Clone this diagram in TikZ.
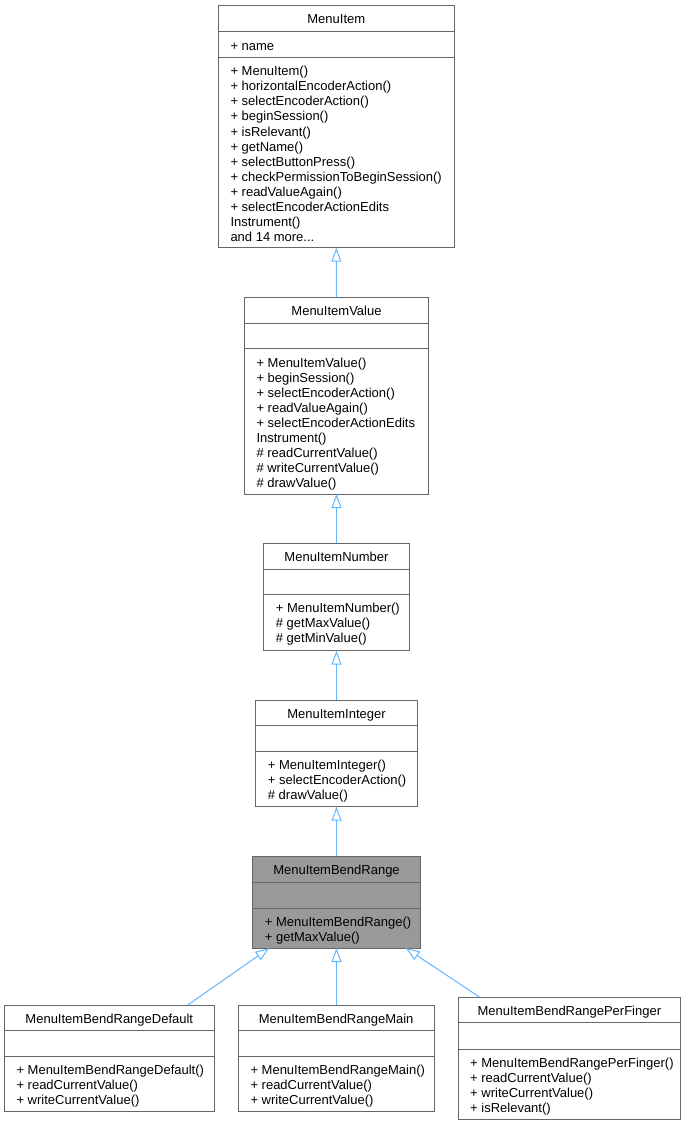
\documentclass[tikz,border=0pt]{standalone}
\usepackage{fontspec}
\setmainfont{Liberation Sans}
\usetikzlibrary{arrows.meta}
\definecolor{edgeblue}{HTML}{63B8FF}
\definecolor{boxline}{HTML}{666666}
\definecolor{hlfill}{HTML}{999999}
\newcommand\moredots{...}
\tikzset{
  classbox/.style={draw=boxline, line width=1pt, inner sep=0pt, outer sep=0pt},
  divider/.style={draw=boxline, line width=1pt},
  txt/.style={font=\fontsize{13}{15}\selectfont, inner sep=0pt, anchor=base west, text=black},
  ttl/.style={txt, anchor=base},
  inh/.style={draw=edgeblue, line width=1pt, -{Triangle[open, length=14pt, width=10pt]}}
}
\newcommand\umlbox[9]{%
  \pgfmathsetmacro\bw{#4-#2}\pgfmathsetmacro\bh{#7-#3}%
  \node[classbox, fill=#8, minimum width=\bw pt, minimum height=\bh pt, anchor=north west] (#1) at (#2,#3) {};
  \draw[divider] (#2,#5) -- (#4,#5);
  \draw[divider] (#2,#6) -- (#4,#6);
  \node[ttl] (#1-t) at ({(#2+#4)/2}, #3+18.3) {#9};
}
\newcommand\umlsec[4]{%
  \foreach \t [count=\i] in {#4} {\node[txt] (#1\i) at (#2+12, {#3+3.5+15.05*\i}) {\t};}
}
\begin{document}
\begin{tikzpicture}[x=1pt, y=-1pt]
\useasboundingbox (0,0) rectangle (687,1126);
\fill[white] (0,0) rectangle (687,1126);

% MenuItem
\umlbox{mi}{218.3}{5.3}{454.3}{31.7}{57.3}{247.7}{white}{MenuItem}
\umlsec{mi-a}{218.3}{31.7}{+ name}
\umlsec{mi-m}{218.3}{57.3}{+ MenuItem(),+ horizontalEncoderAction(),+ selectEncoderAction(),+ beginSession(),+ isRelevant(),+ getName(),+ selectButtonPress(),+ checkPermissionToBeginSession(),+ readValueAgain(),+ selectEncoderActionEdits,Instrument(),and 14 more\moredots}

% MenuItemValue
\umlbox{mv}{244.3}{297.3}{428.7}{323.3}{348.7}{494}{white}{MenuItemValue}
\umlsec{mv-m}{244.3}{348.7}{+ MenuItemValue(),+ beginSession(),+ selectEncoderAction(),+ readValueAgain(),+ selectEncoderActionEdits,Instrument(),\# readCurrentValue(),\# writeCurrentValue(),\# drawValue()}

% MenuItemNumber
\umlbox{mn}{263.7}{543.3}{409.3}{569}{594.3}{650.7}{white}{MenuItemNumber}
\umlsec{mn-m}{263.7}{594.3}{+ MenuItemNumber(),\# getMaxValue(),\# getMinValue()}

% MenuItemInteger
\umlbox{mint}{255.7}{700}{417.3}{725.7}{751.3}{806.7}{white}{MenuItemInteger}
\umlsec{mint-m}{255.7}{751.3}{+ MenuItemInteger(),+ selectEncoderAction(),\# drawValue()}

% MenuItemBendRange
\umlbox{br}{252.7}{856}{420.3}{882.3}{908}{948}{hlfill}{MenuItemBendRange}
\umlsec{br-m}{252.7}{908}{+ MenuItemBendRange(),+ getMaxValue()}

% MenuItemBendRangeDefault
\umlbox{def}{4.3}{1005}{214.3}{1030.7}{1056.3}{1111.3}{white}{MenuItemBendRangeDefault}
\umlsec{def-m}{4.3}{1056.3}{+ MenuItemBendRangeDefault(),+ readCurrentValue(),+ writeCurrentValue()}

% MenuItemBendRangeMain
\umlbox{main}{238.3}{1005}{434}{1030.7}{1056.3}{1111.3}{white}{MenuItemBendRangeMain}
\umlsec{main-m}{238.3}{1056.3}{+ MenuItemBendRangeMain(),+ readCurrentValue(),+ writeCurrentValue()}

% MenuItemBendRangePerFinger
\umlbox{pf}{458}{997.3}{680.7}{1022.7}{1049}{1119}{white}{MenuItemBendRangePerFinger}
\umlsec{pf-m}{458}{1049}{+ MenuItemBendRangePerFinger(),+ readCurrentValue(),+ writeCurrentValue(),+ isRelevant()}

% inheritance
\draw[inh] (mv.north) -- (mi.south);
\draw[inh] (mn.north) -- (mv.south);
\draw[inh] (mint.north) -- (mn.south);
\draw[inh] (br.north) -- (mint.south);
\draw[inh] ([xshift=78.4pt]def.north) -- ([xshift=-67.2pt]br.south);
\draw[inh] (main.north -| br.south) -- (br.south);
\draw[inh] ([xshift=-89.5pt]pf.north) -- ([xshift=69.2pt]br.south);
\end{tikzpicture}
\end{document}
